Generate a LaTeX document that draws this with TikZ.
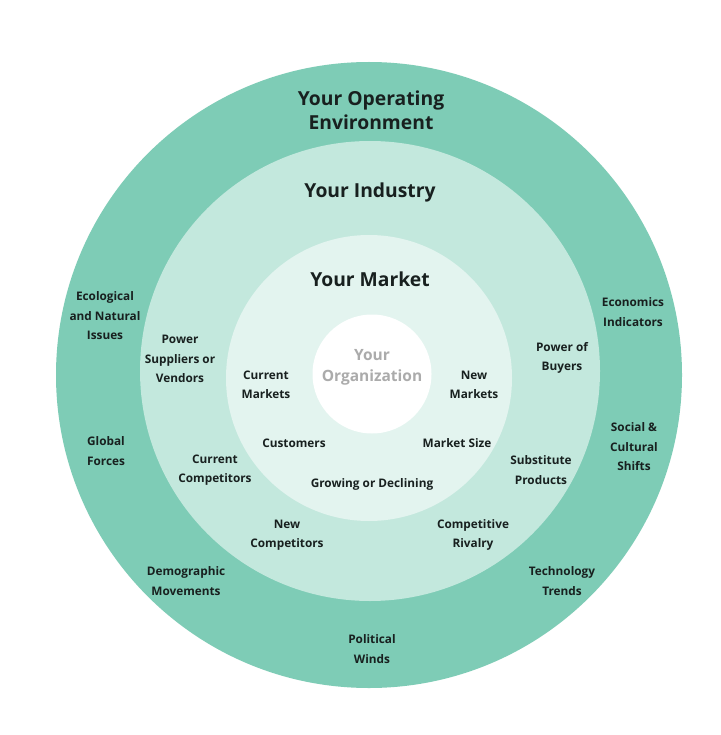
\documentclass[tikz,border=0pt]{standalone}
\usepackage{fontspec}
\setmainfont{Open Sans}
\definecolor{envteal}{HTML}{7ECCB6}
\definecolor{indteal}{HTML}{C3E8DD}
\definecolor{mkteal}{HTML}{E3F4EF}
\definecolor{txtdark}{HTML}{18201F}
\definecolor{orggray}{HTML}{ABABAB}
\begin{document}
\begin{tikzpicture}[
        x=1pt, y=-1pt,
        ring/.style={circle, draw=none, inner sep=0pt},
        title/.style={font=\bfseries\fontsize{19.3}{24}\selectfont, align=center, text=txtdark},
        lbl/.style={font=\bfseries\fontsize{11.8}{19.5}\selectfont, align=center, text=txtdark}
    ]
        \useasboundingbox (0,0) rectangle (720,735);
        \fill[white] (0,0) rectangle (720,735);

        \node[ring, fill=envteal, minimum size=626pt] (environment) at (369,375) {};
        \node[ring, fill=indteal, minimum size=460pt] (industry) at (370,371) {};
        \node[ring, fill=mkteal, minimum size=286pt] (market) at (369,378) {};
        \node[ring, fill=white, minimum size=119pt] (organization) at (372,374) {};

        \node[title] (envtitle) at (371,110) {Your Operating\\Environment};
        \node[title] (indtitle) at (370,192) {Your Industry};
        \node[title] (mkttitle) at (370,279) {Your Market};
        \node[font=\bfseries\fontsize{15.5}{21}\selectfont, align=center, text=orggray] (orgtitle) at (372,367) {Your\\Organization};

        % operating environment
        \node[lbl] (ecological) at (105,316) {Ecological\\and Natural\\Issues};
        \node[lbl] (global) at (106,451) {Global\\Forces};
        \node[lbl] (demographic) at (186,581) {Demographic\\Movements};
        \node[lbl] (political) at (372,649) {Political\\Winds};
        \node[lbl] (technology) at (562,581) {Technology\\Trends};
        \node[lbl] (social) at (634,447) {Social \&\\Cultural\\Shifts};
        \node[lbl] (economics) at (633,312) {Economics\\Indicators};

        % industry
        \node[lbl] (suppliers) at (180,359) {Power\\Suppliers or\\Vendors};
        \node[lbl] (curcomp) at (215,470) {Current\\Competitors};
        \node[lbl] (newcomp) at (287,535) {New\\Competitors};
        \node[lbl] (rivalry) at (473,535) {Competitive\\Rivalry};
        \node[lbl] (substitute) at (541,470) {Substitute\\Products};
        \node[lbl] (buyers) at (562,358) {Power of\\Buyers};

        % market
        \node[lbl] (curmarkets) at (266,385) {Current\\Markets};
        \node[lbl] (newmarkets) at (474,385) {New\\Markets};
        \node[lbl] (customers) at (294,443) {Customers};
        \node[lbl] (size) at (457,443) {Market Size};
        \node[lbl] (growing) at (372,484) {Growing or Declining};
    \end{tikzpicture}
\end{document}
